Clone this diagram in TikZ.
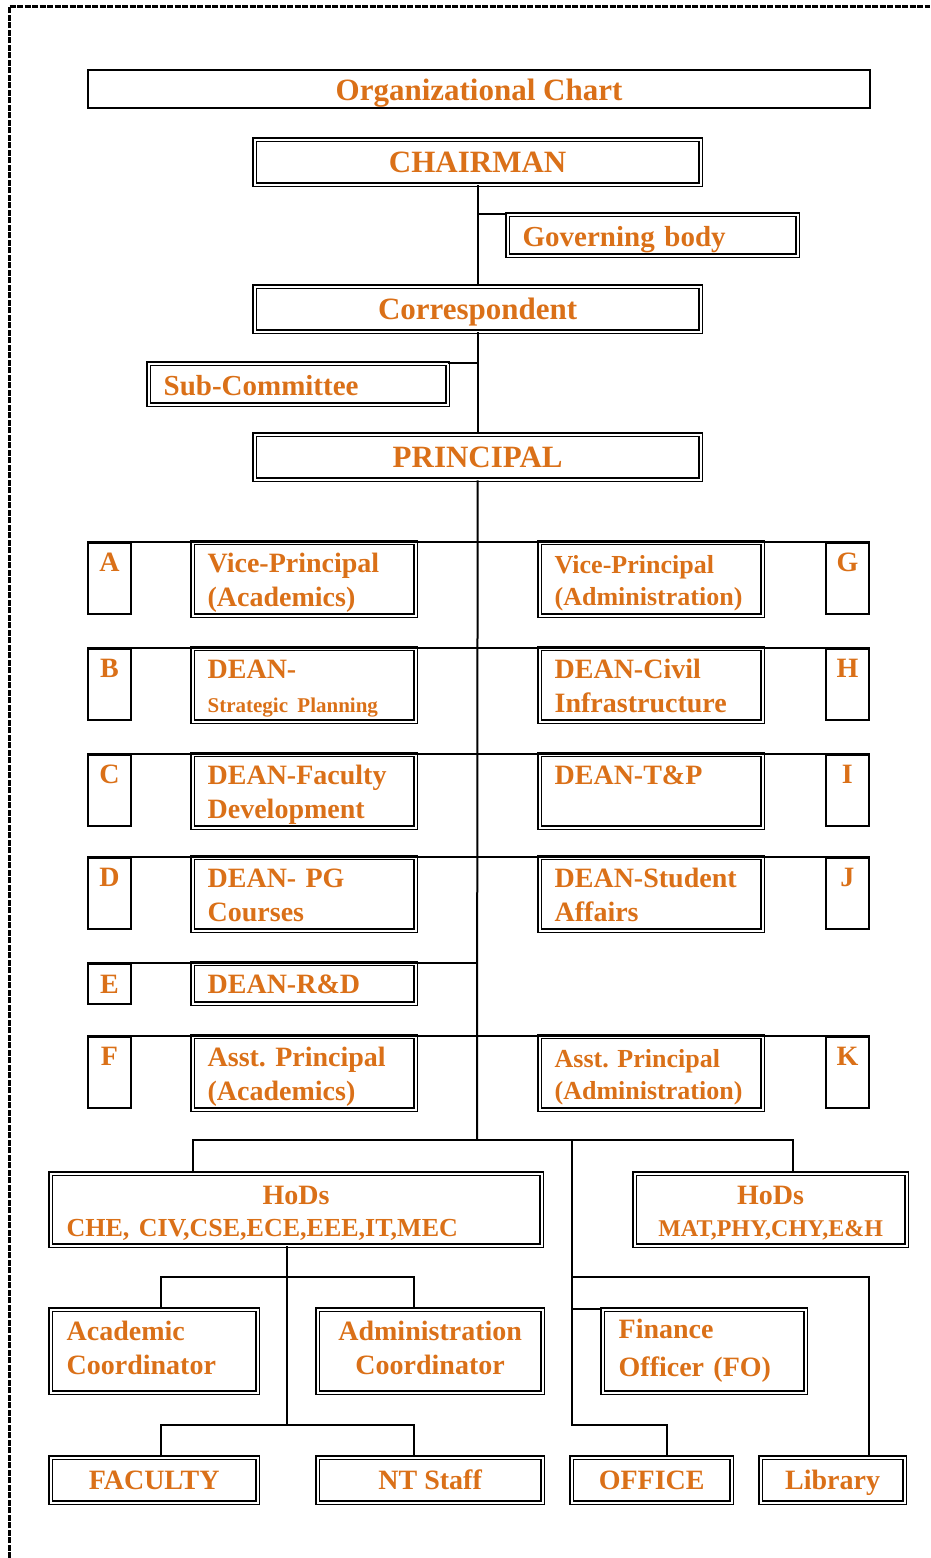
\documentclass[tikz,border=0pt]{standalone}
\usepackage{fontspec}
\setmainfont{Liberation Serif}
\usetikzlibrary{positioning}
\frenchspacing
\definecolor{chartorange}{RGB}{218,112,24}
\newcommand{\upstrut}{\rule{0pt}{28pt}}
\newcommand{\downstrut}{\rule[-7pt]{0pt}{7pt}}
\tikzstyle{orgtitle} = [rectangle, draw=black, line width=2pt, minimum width=782pt, minimum height=38pt, text height=22pt, text depth=0pt, anchor=north west, text=chartorange, font=\fontsize{31}{36}\selectfont\bfseries]
\tikzstyle{headbox} = [rectangle, draw=black, double, line width=1.3pt, double distance=2pt, minimum width=446pt, minimum height=45pt, text height=21pt, text depth=0pt, anchor=north west, text=chartorange, font=\fontsize{31}{36}\selectfont\bfseries]
\tikzstyle{sidebox} = [rectangle, draw=black, double, line width=1.3pt, double distance=2pt, minimum height=41pt, text height=23pt, text depth=0pt, inner xsep=15pt, inner ysep=0pt, anchor=north west, align=left, text=chartorange, font=\fontsize{29}{34}\selectfont\bfseries]
\tikzstyle{postbox} = [rectangle, draw=black, double, line width=1.3pt, double distance=2pt, text width=193pt, minimum height=73pt, inner xsep=15pt, inner ysep=0pt, anchor=north west, align=left, text=chartorange, font=\fontsize{28}{34}\selectfont\bfseries]
\tikzstyle{adminbox} = [postbox, font=\fontsize{26}{32}\selectfont\bfseries]
\tikzstyle{letterbox} = [rectangle, draw=black, line width=1.8pt, minimum width=43pt, minimum height=71pt, inner ysep=0pt, anchor=north west, align=center, text=chartorange, font=\fontsize{28}{34}\selectfont\bfseries]
\tikzstyle{unitbox} = [rectangle, draw=black, double, line width=1.3pt, double distance=2pt, minimum height=45pt, inner xsep=16pt, inner ysep=0pt, anchor=north west, text=chartorange, font=\fontsize{28}{34}\selectfont\bfseries]
\tikzstyle{single} = [text height=19pt, text depth=0pt]
\tikzstyle{link} = [line width=2pt]
\tikzstyle{frame} = [line width=3pt, dash pattern=on 6pt off 1.5pt]

\begin{document}
\begin{tikzpicture}[x=1pt, y=-1pt]
\useasboundingbox (0,0) rectangle (930,1558);
\draw [frame] (9,1558) -- (9,6) -- (930,6);

\node (chart) [orgtitle] at (87,69) {Organizational Chart};
\node (chairman) [headbox] at (254,139) {CHAIRMAN};
\node (governing) [sidebox, text width=260pt] at (507,214) {Governing body};
\node (correspondent) [headbox] at (254,286) {Correspondent};
\node (subcom) [sidebox, text width=269pt] at (148,363) {Sub-Committee};
\node (principal) [headbox] at (254,434) {PRINCIPAL};

\node (ltrA) [letterbox] at (87,542) {\upstrut A\\\downstrut};
\node (vpacad) [postbox] at (192,542) {\upstrut Vice-Principal\\(Academics)\downstrut};
\node (vpadmin) [adminbox] at (539,542) {\upstrut Vice-Principal\\(Administration)\downstrut};
\node (ltrG) [letterbox] at (825,542) {\upstrut G\\\downstrut};

\node (ltrB) [letterbox] at (87,648) {\upstrut B\\\downstrut};
\node (deanplan) [postbox] at (192,648) {\upstrut DEAN-\\\fontsize{21}{32}\selectfont\mbox{Strategic Planning}\downstrut};
\node (deancivil) [postbox] at (539,648) {\upstrut DEAN-Civil\\Infrastructure\downstrut};
\node (ltrH) [letterbox] at (825,648) {\upstrut H\\\downstrut};

\node (ltrC) [letterbox] at (87,754) {\upstrut C\\\downstrut};
\node (deanfac) [postbox] at (192,754) {\upstrut DEAN-Faculty\\Development\downstrut};
\node (deantp) [postbox] at (539,754) {\upstrut DEAN-T\&P\\\downstrut};
\node (ltrI) [letterbox] at (825,754) {\upstrut I\\\downstrut};

\node (ltrD) [letterbox] at (87,857) {\upstrut D\\\downstrut};
\node (deanpg) [postbox] at (192,857) {\upstrut DEAN- PG\\Courses\downstrut};
\node (deanstud) [postbox] at (539,857) {\upstrut DEAN-Student\\Affairs\downstrut};
\node (ltrJ) [letterbox] at (825,857) {\upstrut J\\\downstrut};

\node (ltrE) [letterbox, single, minimum height=40pt] at (87,963) {E};
\node (deanrd) [postbox, single, minimum height=40pt] at (192,963) {DEAN-R\&D};

\node (ltrF) [letterbox] at (87,1036) {\upstrut F\\\downstrut};
\node (apacad) [postbox] at (192,1036) {\upstrut Asst. Principal\\(Academics)\downstrut};
\node (apadmin) [adminbox] at (539,1036) {\upstrut Asst. Principal\\(Administration)\downstrut};
\node (ltrK) [letterbox] at (825,1036) {\upstrut K\\\downstrut};

\node (hodL) [unitbox, text width=459pt, minimum height=72pt, align=left] at (50,1173) {\upstrut\makebox[\linewidth]{HoDs}\\[-2pt]\fontsize{26}{34}\selectfont\mbox{CHE, CIV,CSE,ECE,EEE,IT,MEC}\downstrut};
\node (hodR) [unitbox, minimum width=272pt, minimum height=72pt, align=center] at (634,1173) {\upstrut HoDs\\[-2pt]\fontsize{24}{34}\selectfont MAT,PHY,CHY,E\&H\downstrut};

\node (acadC) [unitbox, text width=175pt, minimum height=83pt, align=left] at (50,1309) {\strut Academic\\Coordinator\strut};
\node (adminC) [unitbox, text width=193pt, minimum height=83pt, align=center] at (317,1309) {\strut Administration\\Coordinator\strut};
\node (finance) [unitbox, text width=171pt, minimum height=83pt, align=left] at (602,1309) {\strut Finance\\[4pt]\mbox{Officer (FO)}\strut};

\node (faculty) [unitbox, single, minimum width=207pt] at (50,1457) {FACULTY};
\node (ntstaff) [unitbox, single, minimum width=225pt] at (317,1457) {NT Staff};
\node (office) [unitbox, single, minimum width=160pt] at (571,1457) {OFFICE};
\node (library) [unitbox, single, minimum width=144pt] at (760,1457) {Library};

\coordinate (split) at (477,1140);
\coordinate (busL) at (193,1140);
\coordinate (busR) at (793,1140);
\coordinate (svc) at (572,1140);
\coordinate (svcEnd) at (572,1425);
\coordinate (libTurn) at (869,1277);
\coordinate (officeTurn) at (667,1425);
\coordinate (hodDrop) at (287,1425);
\coordinate (coordL) at (161,1277);
\coordinate (coordR) at (414,1277);
\coordinate (staffL) at (161,1425);
\coordinate (staffR) at (414,1425);

\draw [link] (chairman.south) -- (correspondent.north);
\draw [link] (correspondent.south) -- (principal.north);
\draw [link] (principal.south) -- (split);
\draw [link] (governing.north west) -- (governing.north west -| chairman.south);
\draw [link] (subcom.north east) -- (subcom.north east -| correspondent.south);

\draw [link] (ltrA.north west) -- (ltrG.north east);
\draw [link] (ltrB.north west) -- (ltrH.north east);
\draw [link] (ltrC.north west) -- (ltrI.north east);
\draw [link] (ltrD.north west) -- (ltrJ.north east);
\draw [link] (ltrE.north west) -- (ltrE.north west -| split);
\draw [link] (ltrF.north west) -- (ltrK.north east);

\draw [link] (busL |- hodL.north) -- (busL) -- (busR) -- (busR |- hodR.north);
\draw [link] (svc) -- (svcEnd) -- (officeTurn) -- (officeTurn |- office.north);
\draw [link] (svc |- libTurn) -- (libTurn) -- (libTurn |- library.north);
\draw [link] (svc |- finance.north west) -- (finance.north west);
\draw [link] (hodL.south -| hodDrop) -- (hodDrop);
\draw [link] (coordL |- acadC.north) -- (coordL) -- (coordR) -- (coordR |- adminC.north);
\draw [link] (staffL |- faculty.north) -- (staffL) -- (staffR) -- (staffR |- ntstaff.north);
\end{tikzpicture}
\end{document}
